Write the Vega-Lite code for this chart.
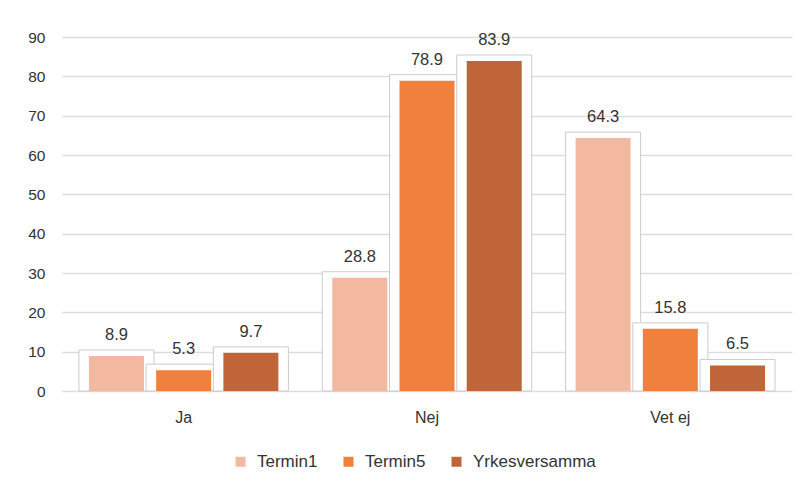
{
  "$schema": "https://vega.github.io/schema/vega-lite/v6.json",
  "width": 730,
  "height": 354,
  "autosize": {"type": "none"},
  "padding": {"left": 62, "top": 37, "right": 17, "bottom": 95},
  "background": "white",
  "data": {
    "values": [
      {"cat": "Ja", "serie": "Termin1", "value": 8.9},
      {"cat": "Ja", "serie": "Termin5", "value": 5.3},
      {"cat": "Ja", "serie": "Yrkesversamma", "value": 9.7},
      {"cat": "Nej", "serie": "Termin1", "value": 28.8},
      {"cat": "Nej", "serie": "Termin5", "value": 78.9},
      {"cat": "Nej", "serie": "Yrkesversamma", "value": 83.9},
      {"cat": "Vet ej", "serie": "Termin1", "value": 64.3},
      {"cat": "Vet ej", "serie": "Termin5", "value": 15.8},
      {"cat": "Vet ej", "serie": "Yrkesversamma", "value": 6.5}
    ]
  },
  "encoding": {
    "x": {
      "field": "cat", "type": "nominal", "sort": ["Ja", "Nej", "Vet ej"],
      "scale": {"paddingInner": 0, "paddingOuter": 0},
      "axis": {"title": null, "labelAngle": 0, "labelFontSize": 16, "labelColor": "#333333", "labelFont": "Liberation Sans", "ticks": false, "domain": false, "labelPadding": 18, "grid": false}
    },
    "xOffset": {
      "field": "serie", "type": "nominal", "sort": ["Termin1", "Termin5", "Yrkesversamma"],
      "scale": {"paddingInner": 0.18, "paddingOuter": 0.4}
    },
    "y": {
      "field": "value", "type": "quantitative",
      "scale": {"domain": [0, 90], "nice": false},
      "axis": {"title": null, "values": [0,10,20,30,40,50,60,70,80,90], "labelFontSize": 15.5, "labelColor": "#333333", "labelFont": "Liberation Sans", "ticks": false, "domain": false, "labelPadding": 17, "gridColor": "#dddddd", "gridWidth": 1.5}
    }
  },
  "layer": [
    {
      "mark": {"type": "bar", "width": 75, "fill": "white", "stroke": "#cccccc", "strokeWidth": 1, "yOffset": -6, "y2Offset": 0},
      "encoding": {"y2": {"datum": 0}}
    },
    {
      "mark": {"type": "bar", "width": 55},
      "encoding": {
        "y2": {"datum": 0},
        "color": {
          "field": "serie", "type": "nominal",
          "sort": ["Termin1", "Termin5", "Yrkesversamma"],
          "scale": {"domain": ["Termin1", "Termin5", "Yrkesversamma"], "range": ["#f3b8a0", "#f0813d", "#c0643a"]},
          "legend": {
            "title": null, "orient": "none", "direction": "horizontal", "legendX": 170, "legendY": 416,
            "symbolType": "square", "symbolSize": 100, "symbolStrokeWidth": 0,
            "labelFontSize": 17, "labelColor": "#333333", "labelFont": "Liberation Sans",
            "columnPadding": 22, "labelOffset": 8
          }
        }
      }
    },
    {
      "mark": {"type": "text", "baseline": "bottom", "dy": -13, "fontSize": 16.5, "font": "Liberation Sans", "color": "#333333"},
      "encoding": {"text": {"field": "value", "type": "quantitative", "format": ".1f"}}
    }
  ],
  "config": {"view": {"stroke": null}}
}
